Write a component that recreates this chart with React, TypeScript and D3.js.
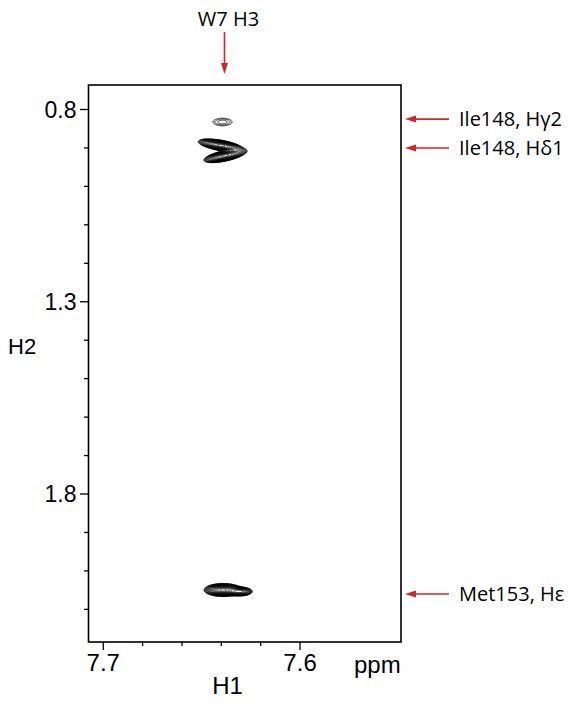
import React, { useMemo } from "react";
import * as d3 from "d3";

// ---- data ----
const H1_DOMAIN = [7.7075, 7.5487];
const H2_DOMAIN = [0.7363, 2.1849];
const H1_MAJOR = [7.7, 7.6];
const H1_MINOR = [7.68, 7.66, 7.64, 7.62];
const H2_MAJOR = [0.8, 1.3, 1.8];
const H2_MINOR = [0.9, 1.0, 1.1, 1.2, 1.4, 1.5, 1.6, 1.7, 1.9, 2.0, 2.1];

// peak components (ppm); angle = tilt of the component in the display (deg)
const PEAK_H1 = [7.6394, 7.6402, 7.6381, 7.6391, 7.6305];
const PEAK_H2 = [0.8325, 0.89363, 0.92042, 2.0497, 2.0536];
const PEAK_SIG_H1 = [0.00447, 0.00432, 0.00407, 0.00356, 0.00254];
const PEAK_SIG_H2 = [0.0091, 0.00507, 0.00507, 0.00624, 0.00468];
const PEAK_ANGLE = [0, 10, -12, 0, 0];
const PEAK_HEIGHT = [1.8, 40, 40, 40, 20];

const LEVEL_BASE = 1;
const LEVEL_RATIO = 1.25;
const LEVEL_COUNT = 17;

const SIDE_LABELS = ["Ile148, H\u03b32", "Ile148, H\u03b41", "Met153, H\u03b5"];
const SIDE_PPM = [0.825, 0.9, 2.06];
const TOP_LABEL = "W7 H3";
const TOP_PPM = 7.6384;

const RED = "#d9232b";

export default function App() {
  const W = 570, H = 709;
  const left = 88.5, right = 401, top = 85, bottom = 642;
  const x = d3.scaleLinear().domain(H1_DOMAIN).range([left, right]);
  const y = d3.scaleLinear().domain(H2_DOMAIN).range([top, bottom]);

  const contourPaths = useMemo(() => {
    const step = 0.5;
    const nx = Math.ceil((right - left) / step);
    const ny = Math.ceil((bottom - top) / step);
    const vals = new Float64Array(nx * ny);
    const kx = Math.abs(x(1) - x(0));
    const ky = Math.abs(y(1) - y(0));
    const comps = PEAK_H1.map((p, k) => {
      const a = (PEAK_ANGLE[k] * Math.PI) / 180;
      return {
        cx: x(p), cy: y(PEAK_H2[k]),
        sl: PEAK_SIG_H1[k] * kx, ss: PEAK_SIG_H2[k] * ky,
        c: Math.cos(a), s: Math.sin(a), h: PEAK_HEIGHT[k],
      };
    });
    for (let j = 0; j < ny; j++) {
      const py = top + (j + 0.5) * step;
      for (let i = 0; i < nx; i++) {
        const px = left + (i + 0.5) * step;
        let v = 0;
        for (const cp of comps) {
          const dx = px - cp.cx, dy = py - cp.cy;
          const lim = 8 * Math.max(cp.sl, cp.ss);
          if (Math.abs(dx) > lim || Math.abs(dy) > lim) continue;
          const u = dx * cp.c + dy * cp.s;
          const w = -dx * cp.s + dy * cp.c;
          v += cp.h * Math.exp(-(u * u) / (2 * cp.sl * cp.sl) - (w * w) / (2 * cp.ss * cp.ss));
        }
        vals[j * nx + i] = v;
      }
    }
    const levels = d3.range(LEVEL_COUNT).map((k) => LEVEL_BASE * Math.pow(LEVEL_RATIO, k));
    const cs = d3.contours().size([nx, ny]).thresholds(levels)(Array.from(vals));
    const path = d3.geoPath(d3.geoIdentity().scale(step).translate([left, top]));
    return cs.map((c) => path(c) || "");
  }, []);

  const axisFont = "'Liberation Sans', Arial, Helvetica, sans-serif";
  const annFont = "'Open Sans', 'Noto Sans', sans-serif";

  return (
    <svg width={W} height={H} style={{ position: "absolute", left: 0, top: 0, background: "#fff" }}>
      <rect x={0} y={0} width={W} height={H} fill="#fff" />
      <g>
        {contourPaths.map((d, i) => (
          <path key={i} d={d} fill="none" stroke="#000" strokeWidth={0.8} />
        ))}
      </g>
      <rect x={left} y={top} width={right - left} height={bottom - top} fill="none" stroke="#000" strokeWidth={1.6} />
      {/* left axis */}
      {H2_MAJOR.map((t) => (
        <g key={"ym" + t}>
          <line x1={left - 8.5} x2={left} y1={y(t)} y2={y(t)} stroke="#000" strokeWidth={1.3} />
          <text x={left - 12} y={y(t)} dy="0.36em" textAnchor="end" fontFamily={axisFont} fontSize={23}>
            {t.toFixed(1)}
          </text>
        </g>
      ))}
      {H2_MINOR.map((t) => (
        <line key={"yn" + t} x1={left - 4.5} x2={left} y1={y(t)} y2={y(t)} stroke="#000" strokeWidth={1.3} />
      ))}
      {/* bottom axis */}
      {H1_MAJOR.map((t) => (
        <g key={"xm" + t}>
          <line x1={x(t)} x2={x(t)} y1={bottom} y2={bottom + 8} stroke="#000" strokeWidth={1.3} />
          <text x={x(t)} y={bottom + 29} textAnchor="middle" fontFamily={axisFont} fontSize={24}>
            {t.toFixed(1)}
          </text>
        </g>
      ))}
      {H1_MINOR.map((t) => (
        <line key={"xn" + t} x1={x(t)} x2={x(t)} y1={bottom} y2={bottom + 4} stroke="#000" strokeWidth={1.3} />
      ))}
      <text x={354} y={bottom + 31} fontFamily={axisFont} fontSize={24}>ppm</text>
      <text x={227.5} y={bottom + 52} textAnchor="middle" fontFamily={axisFont} fontSize={24}>H1</text>
      <text x={8} y={354} fontFamily={axisFont} fontSize={22}>H2</text>
      {/* top annotation */}
      <text x={x(TOP_PPM) + 4} y={26} textAnchor="middle" fontFamily={annFont} fontSize={20}>{TOP_LABEL}</text>
      <line x1={x(TOP_PPM)} x2={x(TOP_PPM)} y1={32} y2={65} stroke={RED} strokeWidth={1.6} />
      <path d={`M${x(TOP_PPM) - 3.5},${63} L${x(TOP_PPM) + 3.5},${63} L${x(TOP_PPM)},${74} Z`} fill={RED} />
      {/* side annotations */}
      {SIDE_LABELS.map((lab, i) => {
        const yy = y(SIDE_PPM[i]);
        return (
          <g key={lab}>
            <line x1={414} x2={449} y1={yy} y2={yy} stroke={RED} strokeWidth={1.6} />
            <path d={`M405,${yy} L416,${yy - 3.5} L416,${yy + 3.5} Z`} fill={RED} />
            <text x={459} y={yy} dy="0.35em" fontFamily={annFont} fontSize={20}>{lab}</text>
          </g>
        );
      })}
    </svg>
  );
}
